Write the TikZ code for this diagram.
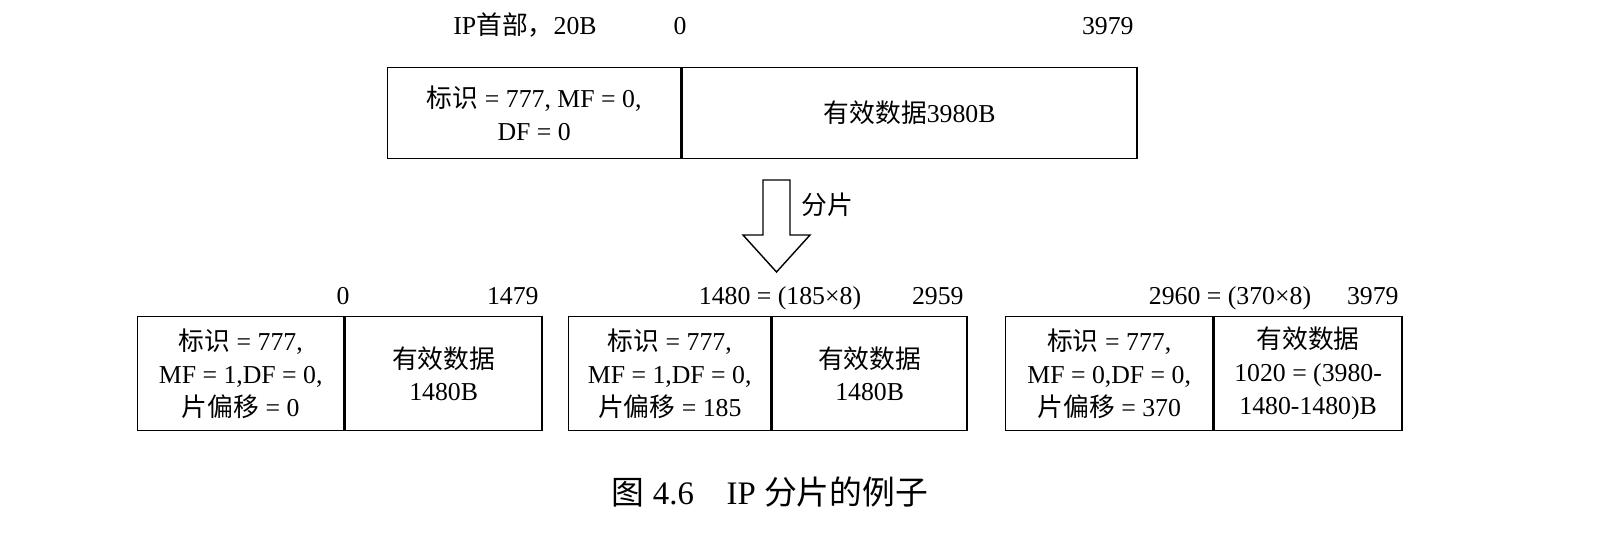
\documentclass[tikz,border=0pt]{standalone}
\usepackage{fontspec}
\setmainfont{Liberation Serif}
\newfontfamily\cjk{Noto Sans CJK SC}
\usetikzlibrary{positioning}
\tikzset{
  cell/.style={draw, line width=1.2pt, minimum height=#1, inner sep=0pt, align=center, anchor=north west},
  lbl/.style={inner sep=1pt, font=\fontsize{22}{26}\selectfont}
}
\begin{document}
\begin{tikzpicture}[x=0.03cm, y=-0.03cm, font=\fontsize{22}{28}\selectfont]
\useasboundingbox (0,0) rectangle (1621,540);
% original datagram
\node[cell=2.73cm, minimum width=8.79cm] (hdr) at (387,67) {{\cjk 标识} = 777, MF = 0,\\DF = 0};
\node[cell=2.73cm, minimum width=13.65cm] (data) at (hdr.north east) {{\cjk 有效数据}3980B};
\node[lbl, anchor=base] (hlen) at (525,35) {IP{\cjk 首部，}20B};
\node[lbl, anchor=base] (zero) at (680,35) {0};
\node[lbl, anchor=base east] (end) at (1135,35) {3979};
% fragmentation arrow
\draw[line width=1.2pt] (763,180) coordinate (a1) -- (790,180) -- (790,235) -- (810,235) -- (776.5,272) coordinate (tip) -- (743,235) -- (763,235) -- cycle;
\node[lbl, anchor=west] (frag) at (800,205) {\cjk 分片};
% fragments
\node[cell=3.42cm, minimum width=6.18cm] (h1) at (137,316) {{\cjk 标识} = 777,\\MF = 1,DF = 0,\\{\cjk 片偏移} = 0};
\node[cell=3.42cm, minimum width=5.91cm] (d1) at (h1.north east) {{\cjk 有效数据}\\1480B};
\node[cell=3.42cm, minimum width=6.06cm] (h2) at (568,316) {{\cjk 标识} = 777,\\MF = 1,DF = 0,\\{\cjk 片偏移} = 185};
\node[cell=3.42cm, minimum width=5.85cm] (d2) at (h2.north east) {{\cjk 有效数据}\\1480B};
\node[cell=3.42cm, minimum width=6.21cm] (h3) at (1005,316) {{\cjk 标识} = 777,\\MF = 0,DF = 0,\\{\cjk 片偏移} = 370};
\node[cell=3.42cm, minimum width=5.64cm] (d3) at (h3.north east) {{\cjk 有效数据}\\1020 = (3980-\\1480-1480)B};
\node[lbl, anchor=base] (s1) at (343,305) {0};
\node[lbl, anchor=base east] (e1) at (540,305) {1479};
\node[lbl, anchor=base] (s2) at (780,305) {1480 = (185×8)};
\node[lbl, anchor=base east] (e2) at (965,305) {2959};
\node[lbl, anchor=base] (s3) at (1230,305) {2960 = (370×8)};
\node[lbl, anchor=base east] (e3) at (1400,305) {3979};
% caption
\node[lbl, font=\fontsize{28}{32}\selectfont] (cap) at (770,492) {{\cjk 图} 4.6\quad IP {\cjk 分片的例子}};
\end{tikzpicture}
\end{document}
